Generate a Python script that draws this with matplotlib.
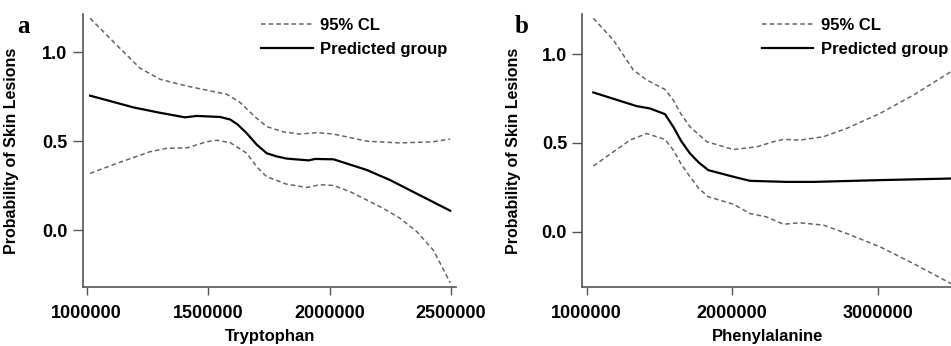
import matplotlib.pyplot as plt
plt.rcParams.update({
    "font.family": ["Liberation Sans", "DejaVu Sans"],
    "font.weight": "bold",
    "axes.spines.top": False,
    "axes.spines.right": False,
    "axes.edgecolor": "#555555",
    "xtick.color": "#555555",
    "ytick.color": "#555555",
    "xtick.labelcolor": "black",
    "ytick.labelcolor": "black",
})

# panel a: Tryptophan
trp_x = [1013700, 1192000, 1300000, 1405000, 1453000, 1549000, 1590000, 1620000, 1659000,
         1700000, 1741000, 1780000, 1823000, 1913000, 1940000, 2016000, 2153000, 2249000, 2496000]
trp_pred = [0.756, 0.690, 0.660, 0.634, 0.642, 0.636, 0.622, 0.595, 0.544,
            0.480, 0.432, 0.415, 0.402, 0.392, 0.400, 0.398, 0.338, 0.281, 0.109]
trp_up_x = [1013700, 1123500, 1219600, 1302000, 1411700, 1521500, 1576400, 1631000,
            1690000, 1741000, 1810000, 1878000, 1947000, 2016000, 2153000, 2290000, 2427000, 2496000]
trp_up = [1.191, 1.040, 0.910, 0.848, 0.810, 0.779, 0.764, 0.718,
          0.640, 0.582, 0.552, 0.540, 0.548, 0.540, 0.500, 0.490, 0.497, 0.512]
trp_lo_x = [1013700, 1123500, 1261000, 1329000, 1411700, 1494000, 1535000, 1590000,
            1659000, 1700000, 1741000, 1823000, 1906000, 1960000, 2016000, 2084000, 2153000,
            2221000, 2290000, 2359000, 2427000, 2496000]
trp_lo = [0.319, 0.375, 0.441, 0.460, 0.462, 0.497, 0.505, 0.492,
          0.432, 0.355, 0.300, 0.258, 0.240, 0.255, 0.251, 0.216, 0.169,
          0.122, 0.066, -0.009, -0.113, -0.296]

# panel b: Phenylalanine
phe_x = [1045800, 1343600, 1435000, 1538000, 1595000, 1650000, 1710000, 1770000, 1836000,
         2008000, 2123000, 2375000, 2558000, 3016000, 3504000]
phe_pred = [0.784, 0.707, 0.694, 0.662, 0.591, 0.510, 0.441, 0.390, 0.347,
            0.310, 0.287, 0.281, 0.281, 0.291, 0.300]
phe_up_x = [1045800, 1183000, 1321000, 1412000, 1538000, 1595000, 1650000, 1710000, 1825000,
            2008000, 2168000, 2283000, 2352000, 2466000, 2627000, 2787000, 3016000,
            3245000, 3504000]
phe_up = [1.201, 1.079, 0.910, 0.854, 0.801, 0.741, 0.660, 0.591, 0.507,
          0.463, 0.478, 0.507, 0.520, 0.516, 0.535, 0.582, 0.666, 0.769, 0.901]
phe_lo_x = [1045800, 1183000, 1298000, 1412000, 1538000, 1595000, 1650000, 1710000, 1770000,
            1836000, 2008000, 2123000, 2237000, 2352000, 2466000, 2627000, 2787000, 3016000,
            3245000, 3504000]
phe_lo = [0.370, 0.450, 0.516, 0.553, 0.520, 0.460, 0.380, 0.310, 0.245,
          0.197, 0.156, 0.103, 0.084, 0.043, 0.051, 0.038, -0.009, -0.084, -0.178, -0.291]

fig = plt.figure(figsize=(9.51, 3.46), dpi=100)
axa = fig.add_axes([0.087, 0.1705, 0.3925, 0.789])
axb = fig.add_axes([0.6123, 0.1705, 0.3877, 0.789])

panels = [
    (axa, trp_x, trp_pred, trp_up_x, trp_up, trp_lo_x, trp_lo, "Tryptophan",
     (983500, 2520000), (-0.32, 1.215), [1000000, 1500000, 2000000, 2500000], "a", 0.478),
    (axb, phe_x, phe_pred, phe_up_x, phe_up, phe_lo_x, phe_lo, "Phenylalanine",
     (969800, 3503800), (-0.31, 1.225), [1000000, 2000000, 3000000], "b", 0.4866),
]

for ax, x, pred, ux, up, lx, lo, xlab, xl, yl, xt, tag, legx in panels:
    ax.plot(ux, up, color="#666666", lw=1.1, ls=(0, (3, 2)), label="95% CL")
    ax.plot(lx, lo, color="#666666", lw=1.1, ls=(0, (3, 2)))
    ax.plot(x, pred, color="black", lw=1.6, label="Predicted group")
    ax.set_xlim(*xl)
    ax.set_ylim(*yl)
    ax.set_xticks(xt)
    ax.set_xticklabels([str(v) for v in xt])
    ax.set_yticks([0.0, 0.5, 1.0])
    ax.set_yticklabels(["0.0", "0.5", "1.0"])
    ax.tick_params(axis="x", length=6, width=1, pad=7, labelsize=13)
    ax.tick_params(axis="y", length=7, width=1, pad=4, labelsize=13)
    for s in ax.spines.values():
        s.set_linewidth(1.2)
    ax.set_xlabel(xlab, fontsize=12, fontweight="bold")
    ax.xaxis.set_label_coords(0.503, -0.152)
    ax.set_ylabel("Probability of Skin Lesions", fontsize=11.5, fontweight="bold")
    ax.yaxis.set_label_coords(-0.17 if tag == "a" else -0.165, 0.5)
    ax.legend(loc="upper left", bbox_to_anchor=(legx, 0.985), frameon=False,
              borderpad=0, borderaxespad=0, handlelength=3.1, handletextpad=0.45,
              labelspacing=0.55, prop={"size": 12, "weight": "bold"})
    ax.text(-0.16 if tag == "a" else -0.165, 0.955, tag, transform=ax.transAxes,
            fontsize=18, fontweight="bold", family="Liberation Serif",
            ha="center", va="center")

fig.savefig("out.png", dpi=100)
